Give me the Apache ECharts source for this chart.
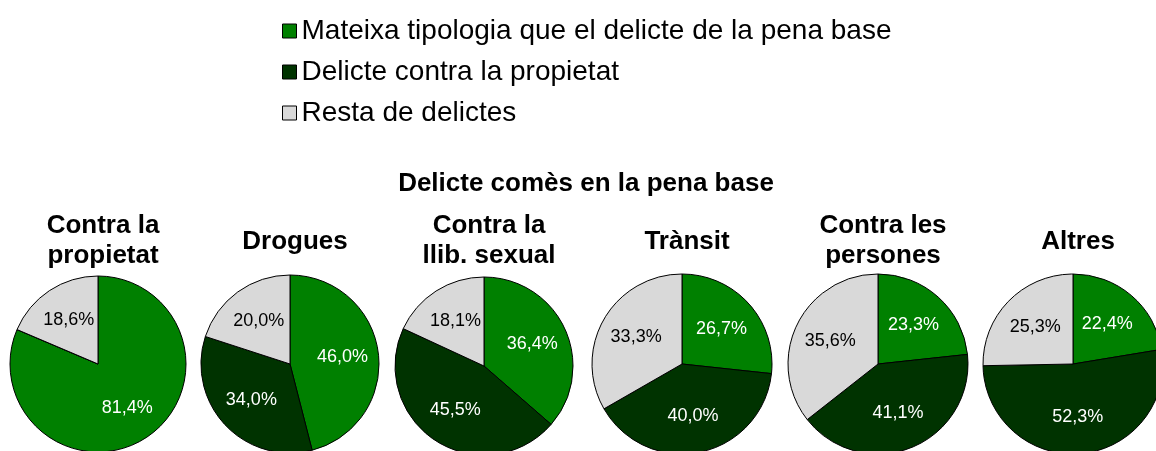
<!DOCTYPE html>
<html>
<head>
<meta charset="utf-8">
<script src="https://cdn.jsdelivr.net/npm/echarts@6/dist/echarts.min.js"></script>
<style>
  html, body { margin: 0; padding: 0; background: #ffffff; }
  #chart { width: 1156px; height: 451px; }
</style>
</head>
<body>
<div id="chart"></div>
<script>
  // legend / slice names
  var categories = ['Mateixa tipologia que el delicte de la pena base', 'Delicte contra la propietat', 'Resta de delictes'];
  // one pie per offence of the base sentence
  var pieTitles = ['Contra la\npropietat', 'Drogues', 'Contra la\nllib. sexual', 'Tr\u00e0nsit', 'Contra les\npersones', 'Altres'];
  var mateixa = [81.4, 46.0, 36.4, 26.7, 23.3, 22.4];
  var propietat = [0, 34.0, 45.5, 40.0, 41.1, 52.3];
  var resta = [18.6, 20.0, 18.1, 33.3, 35.6, 25.3];

  var colors = ['#008000', '#003300', '#d9d9d9'];
  var labelColors = ['#ffffff', '#ffffff', '#000000'];
  var font = '"Liberation Sans", Arial, sans-serif';

  // layout of the six pies
  var centersX = [98, 290, 484, 682, 878, 1073];
  var centersY = [364, 364, 366, 364, 364, 364];
  var radii = [88, 89, 89, 90, 90, 90];

  var myChart = echarts.init(document.getElementById('chart'));

  var titles = [{
    text: 'Delicte com\u00e8s en la pena base',
    left: 581,
    top: 164,
    textAlign: 'center',
    textStyle: { fontFamily: font, fontSize: 26, fontWeight: 'bold', color: '#000', lineHeight: 30 }
  }];
  var series = [];

  for (var i = 0; i < pieTitles.length; i++) {
    var twoLines = pieTitles[i].indexOf('\n') >= 0;
    titles.push({
      text: pieTitles[i],
      left: centersX[i],
      top: twoLines ? 206 : 222,
      textAlign: 'center',
      textStyle: { fontFamily: font, fontSize: 26, fontWeight: 'bold', color: '#000', lineHeight: 30 }
    });

    var vals = [mateixa[i], propietat[i], resta[i]];
    var data = [], labelData = [];
    for (var k = 0; k < categories.length; k++) {
      data.push({ name: categories[k], value: vals[k], itemStyle: { color: colors[k] } });
      labelData.push({ name: categories[k], value: vals[k], label: { color: labelColors[k] } });
    }

    // visible pie
    series.push({
      type: 'pie',
      center: [centersX[i], centersY[i]],
      radius: [0, radii[i]],
      startAngle: 90,
      clockwise: true,
      animation: false,
      silent: true,
      label: { show: false },
      labelLine: { show: false },
      itemStyle: { borderColor: '#000', borderWidth: 1 },
      data: data
    });
    // invisible copy, only for placing the percentages a bit further out
    series.push({
      type: 'pie',
      center: [centersX[i], centersY[i]],
      radius: [0, 100],
      startAngle: 90,
      clockwise: true,
      animation: false,
      silent: true,
      legendHoverLink: false,
      itemStyle: { color: 'rgba(0,0,0,0)', borderWidth: 0 },
      label: {
        show: true,
        position: 'inside',
        fontFamily: font,
        fontSize: 18,
        formatter: function (p) {
          if (!p.value) return '';
          return p.value.toFixed(1).replace('.', ',') + '%';
        }
      },
      labelLine: { show: false },
      emphasis: { disabled: true },
      data: labelData
    });
  }

  var option = {
    backgroundColor: '#ffffff',
    animation: false,
    title: titles,
    legend: {
      orient: 'vertical',
      left: 282,
      top: 16,
      padding: 0,
      itemWidth: 14,
      itemHeight: 14,
      itemGap: 11,
      icon: 'rect',
      selectedMode: false,
      data: categories,
      itemStyle: { borderColor: '#000', borderWidth: 1 },
      textStyle: { fontFamily: font, fontSize: 28, color: '#000', lineHeight: 30 }
    },
    series: series
  };

  myChart.setOption(option);
  window.addEventListener('resize', function () { myChart.resize(); });
</script>
</body>
</html>
